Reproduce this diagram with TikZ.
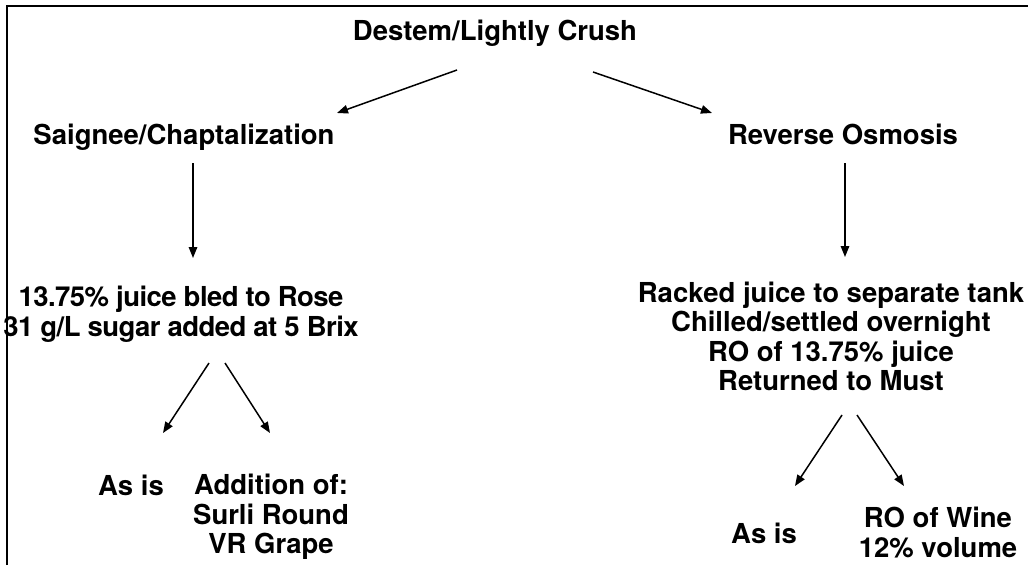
\documentclass[tikz,border=0pt]{standalone}
\usepackage{fontspec}
\setmainfont{TeX Gyre Heros}
\usetikzlibrary{arrows.meta}
\begin{document}
\begin{tikzpicture}[x=1pt,y=-1pt,
  lbl/.style={font=\fontsize{27.5}{29.5}\selectfont\bfseries, inner sep=0pt, align=center, anchor=center},
  tight/.style={font=\fontsize{27.5}{29.5}\selectfont\bfseries\addfontfeature{LetterSpace=-2}},
  arr/.style={line width=1.5pt, -{Triangle[length=11pt,width=8.5pt]}}]
\useasboundingbox (0,0) rectangle (1028,565);
\draw[line width=2pt] (7,565) -- (7,6) -- (1028,6);
% nodes
\node[lbl] (dest) at (495,33) {Destem/Lightly Crush};
\node[lbl] (sai) at (184,137) {Saignee/Chaptalization};
\node[lbl] (ro) at (843,134) {Reverse Osmosis};
\node[lbl,tight] (juice) at (181,314) {13.75\% juice bled to Rose\\31 g/L sugar added at 5 Brix};
\node[lbl] (rack) at (831,336.5) {Racked juice to separate tank\\Chilled/settled overnight\\RO of 13.75\% juice\\Returned to Must};
\node[lbl] (asisL) at (131,485) {As is};
\node[lbl] (add) at (271,517) {Addition of:\\Surli Round\\VR Grape};
\node[lbl] (asisR) at (764,533) {As is};
\node[lbl] (row) at (938,532.5) {RO of Wine\\12\% volume};
% connector end points
\coordinate (d1) at (457,70); \coordinate (s1) at (337,113);
\coordinate (d2) at (593,72); \coordinate (r1) at (712,113);
\coordinate (s2) at (193,163); \coordinate (j1) at (193,258);
\coordinate (r2) at (845,163); \coordinate (k1) at (845,257);
\coordinate (j2) at (209,363); \coordinate (aL) at (163,433);
\coordinate (j3) at (225,363); \coordinate (ad) at (270,433);
\coordinate (k2) at (842,415); \coordinate (aR) at (795,486);
\coordinate (k3) at (857,415); \coordinate (rw) at (904,486);
\draw[arr] (d1) -- (s1);
\draw[arr] (d2) -- (r1);
\draw[arr] (s2) -- (j1);
\draw[arr] (r2) -- (k1);
\draw[arr] (j2) -- (aL);
\draw[arr] (j3) -- (ad);
\draw[arr] (k2) -- (aR);
\draw[arr] (k3) -- (rw);
\end{tikzpicture}
\end{document}
